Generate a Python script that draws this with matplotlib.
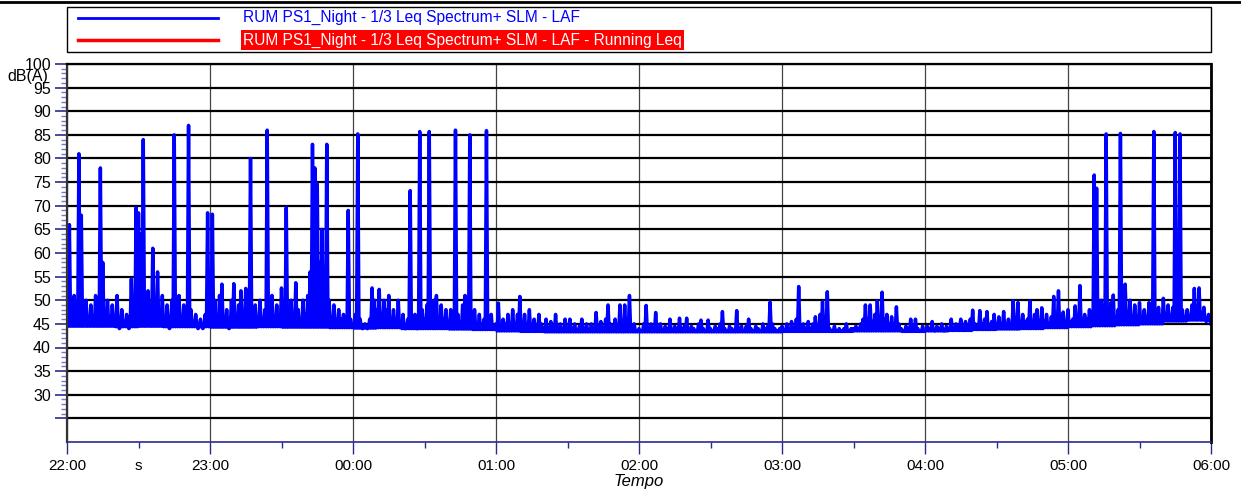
import numpy as np
import matplotlib
matplotlib.use("Agg")
import matplotlib.pyplot as plt
from matplotlib.lines import Line2D
from matplotlib.patches import Rectangle

plt.rcParams['font.family'] = ['Liberation Sans', 'DejaVu Sans']

# LAF maximum per minute (dB(A)), one list per hour
laf_22 = [47, 66, 45, 51, 46, 81, 68, 46, 50, 45,
          49, 45, 51, 46, 78, 58, 45, 50, 46, 49,
          45, 51, 44, 48, 45, 47, 44, 54.5, 45, 69.6,
          68.5, 64, 84, 47, 52, 46, 61, 48, 56, 46,
          51, 45, 49, 44, 50, 85, 46, 51, 45, 49,
          46, 87, 48, 45, 47, 44, 46, 44, 47, 68.5]
laf_23 = [54, 68.2, 50, 46, 51, 53.4, 45, 48, 44, 50,
          53.5, 45, 49, 52, 46, 52.5, 47, 80, 46, 49,
          45, 50, 46, 48, 86, 47, 51, 45, 49, 46,
          52.6, 46, 69.6, 47, 50, 45, 53.7, 48, 45, 50,
          47, 51, 56, 83, 78, 74.6, 58, 65, 52, 83,
          50, 46, 49, 45, 48, 46, 47, 45, 69, 46]
laf_00 = [45, 47, 85.2, 46, 44, 45, 44, 46, 52.6, 50,
          48, 52.3, 47, 50, 48, 51, 46, 48, 45, 50,
          45, 47, 44, 46, 73.2, 45, 47, 44, 85.7, 48,
          46, 49, 85.7, 47, 50, 51, 45, 49, 46, 48,
          45, 48, 46, 86, 47, 45, 49, 51, 46, 85,
          46, 48, 44, 47, 45, 46, 85.9, 45, 47, 44]
laf_01 = [45, 49.4, 44, 46, 45, 47, 44, 48, 45, 47,
          50.8, 45, 47, 44, 48, 45, 46, 44, 47, 45,
          44, 46, 43.5, 45.5, 44, 47, 43.5, 45, 44, 46,
          43.5, 46, 44, 45, 43.5, 44.5, 46, 44, 45, 43.5,
          45, 44, 47.4, 44, 45.5, 44, 46, 49, 45, 44.5,
          46, 44, 49, 45, 49, 44, 51, 44, 45, 43.5]
laf_02 = [44, 43.5, 45, 48.9, 44, 45, 44, 47.4, 44, 45,
          43.5, 44.5, 44, 46, 43.5, 44.5, 44, 46.2, 43.5, 44.5,
          46.2, 43.5, 44.5, 44, 43.5, 45, 45.8, 44, 43.5, 45.8,
          44, 43.5, 44.5, 44, 45, 47.6, 44, 43.5, 44.5, 44,
          43.5, 47.8, 44, 44.5, 43.5, 44.5, 46, 44, 43.5, 44.5,
          44, 43.5, 45, 44, 44.5, 49.6, 45, 44, 43.5, 44]
laf_03 = [44.5, 43.5, 45, 44, 45.5, 44, 46, 52.9, 44, 45,
          44, 45.5, 44, 45, 46.5, 44.5, 47, 49.7, 46, 51.8,
          44, 43.5, 44.5, 43.5, 44, 43.5, 44, 45, 43.5, 44,
          44, 44.5, 44, 45, 46, 49, 46, 49, 45.5, 47,
          49.9, 45.5, 51.7, 46, 47, 45, 46.5, 44.5, 48.6, 45,
          44, 43.5, 44.5, 44, 46, 44.5, 46, 44, 43.5, 44.5]
laf_04 = [43.5, 44.5, 44, 45.5, 43.5, 44.5, 44, 45, 43.5, 44.5,
          44, 46, 44, 45, 44.5, 46, 44, 45.5, 44.5, 46,
          47.9, 45, 44.5, 47.8, 45, 46, 47.6, 44.5, 45.5, 47,
          45, 46.5, 45, 47.6, 45, 46, 45, 49.9, 46, 49.5,
          45, 47, 45.5, 46, 49.8, 45, 47, 48, 45.5, 48.4,
          45.5, 47, 45, 46.5, 50.8, 45, 52, 46, 47.5, 45]
laf_05 = [48, 45.5, 46, 48.8, 45, 53.1, 45.5, 47, 46, 48,
          46.5, 76.5, 73.7, 47, 50, 46, 85.2, 47, 49.5, 51.1,
          46, 48, 85.3, 47, 53.4, 46, 50, 46.5, 49, 46,
          49.5, 46, 48, 46.5, 49.5, 46, 85.7, 47, 48.5, 46.5,
          50.4, 47, 49, 46.5, 48.5, 85.5, 47, 85.2, 48, 46.5,
          48, 46, 49, 52.5, 46, 52.6, 46, 48.5, 45.5, 47]
laf_06 = [45]

# LAF minimum (background floor) per 10 minutes
floor_22 = [44.5, 44.5, 44.4, 44.5, 44.4, 44.4]
floor_23 = [44.3, 44.3, 44.4, 44.3, 44.3, 44.2]
floor_00 = [44.1, 44.2, 44.0, 44.0, 43.9, 43.8]
floor_01 = [43.5, 43.4, 43.3, 43.3, 43.3, 43.3]
floor_02 = [43.3, 43.3, 43.3, 43.3, 43.3, 43.3]
floor_03 = [43.4, 43.4, 43.4, 43.5, 43.5, 43.4]
floor_04 = [43.5, 43.6, 43.8, 43.9, 44.0, 44.2]
floor_05 = [44.4, 44.6, 44.8, 45.0, 45.6, 45.8]

hour_labels = ["22:00", "23:00", "00:00", "01:00", "02:00", "03:00", "04:00", "05:00", "06:00"]
half_labels = ["s", "", "", "", "", "", "", ""]
legend_labels = ["RUM PS1_Night - 1/3 Leq Spectrum+ SLM - LAF",
                 "RUM PS1_Night - 1/3 Leq Spectrum+ SLM - LAF - Running Leq"]

laf = laf_22 + laf_23 + laf_00 + laf_01 + laf_02 + laf_03 + laf_04 + laf_05 + laf_06
floor = floor_22 + floor_23 + floor_00 + floor_01 + floor_02 + floor_03 + floor_04 + floor_05

# trace goes max -> floor within each minute, like the dense logger trace
t, y = [], []
for m in range(len(laf) - 1):
    t += [m, m + 0.5]
    y += [laf[m], floor[m // 10]]
t.append(len(laf) - 1)
y.append(laf[-1])

W, H = 1241, 495
fig = plt.figure(figsize=(W / 100, H / 100), dpi=100)
ax = fig.add_axes([67 / W, 1 - 442 / H, 1144 / W, 378 / H])

ax.plot(t, y, color="#0000ff", lw=2.5)

ax.set_xlim(0, 480)
ax.set_ylim(20, 100)

navy = "#2b2b8c"
ax.set_yticks(np.arange(25, 101, 5))
ax.set_yticklabels([""] + [str(v) for v in range(30, 101, 5)])
ax.set_yticks(np.arange(25, 101, 1), minor=True)
ax.tick_params(axis="y", which="major", length=8.6, width=1.2, color=navy, pad=3, labelsize=11.5)
ax.tick_params(axis="y", which="minor", length=4.3, width=1.0, color="#7a7ac0")

ax.set_xticks(np.arange(0, 481, 60))
ax.set_xticklabels(hour_labels)
ax.set_xticks(np.arange(30, 480, 60), minor=True)
ax.set_xticklabels(half_labels, minor=True)
ax.tick_params(axis="x", which="major", length=8.6, width=1.0, color=navy, pad=3.6, labelsize=11)
ax.tick_params(axis="x", which="minor", length=4.3, width=1.0, color=navy, pad=7.9, labelsize=11)

ax.grid(axis="y", which="major", color="black", lw=1.6)
ax.grid(axis="x", which="major", color="#444444", lw=0.9)

ax.spines["top"].set_color("black")
ax.spines["top"].set_linewidth(1.6)
ax.spines["right"].set_color("black")
ax.spines["right"].set_linewidth(2)
ax.spines["left"].set_color("#333333")
ax.spines["left"].set_linewidth(1.6)
ax.spines["bottom"].set_color(navy)
ax.spines["bottom"].set_linewidth(1.2)

ax.set_xlabel("Tempo", fontsize=12, style="italic", labelpad=1)
fig.text(28 / W, 1 - 76 / H, "dB(A)", fontsize=11.5, ha="center", va="center")

# legend box drawn by hand
fig.add_artist(Rectangle((67 / W, 1 - 52 / H), 1144 / W, 45 / H, transform=fig.transFigure,
                         fill=False, ec="black", lw=1))
fig.add_artist(Line2D([78 / W, 218 / W], [1 - 18 / H] * 2, color="#0000ff", lw=2))
fig.add_artist(Line2D([78 / W, 218 / W], [1 - 40 / H] * 2, color="#ff0000", lw=2.5))
fig.text(243 / W, 1 - 17 / H, legend_labels[0], color="#0000ff", fontsize=11.2, va="center")
fig.text(243 / W, 1 - 40 / H, legend_labels[1], color="white", fontsize=11.2, va="center",
         bbox=dict(facecolor="#ff0000", edgecolor="none", pad=1.5))

# rule across the top of the page
fig.add_artist(Line2D([0, 1], [1 - 2 / H] * 2, color="black", lw=2))

fig.savefig("out.png", dpi=100)
